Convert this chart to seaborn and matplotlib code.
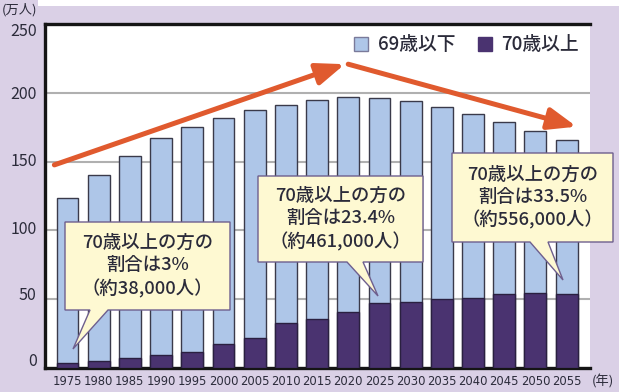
import matplotlib
matplotlib.use("Agg")
import matplotlib.pyplot as plt
import matplotlib.transforms as mtransforms
import seaborn as sns
import pandas as pd
from matplotlib.patches import Patch, Polygon, Rectangle

# --- data (万人) ---
years = ["1975", "1980", "1985", "1990", "1995", "2000", "2005", "2010", "2015",
         "2020", "2025", "2030", "2035", "2040", "2045", "2050", "2055"]
total = [123.4, 139.9, 153.8, 166.9, 175.4, 181.7, 187.7, 191.1, 194.7,
         196.6, 196.2, 193.7, 189.9, 184.6, 178.8, 172.2, 165.4]
over70 = [3.5, 5.1, 7.2, 9.2, 11.6, 17.4, 21.5, 32.4, 35.5,
          40.4, 46.9, 47.8, 49.8, 51.2, 53.6, 54.8, 54.1]
y_ticks = [0, 50, 100, 150, 200, 250]
legend_labels = ["69歳以下", "70歳以上"]
notes = [
    "70歳以上の方の\n割合は3%\n（約38,000人）",
    "70歳以上の方の\n割合は23.4%\n（約461,000人）",
    "70歳以上の方の\n割合は33.5%\n（約556,000人）",
]

df = pd.DataFrame({"year": years, "total": total, "over70": over70})

LIGHT = "#AEC6E8"
DARK = "#4A3370"
BG = "#DAD0E6"
ARROW = "#E05A2E"
TXT = "#2B2B3A"
W, H = 619, 392

sns.set_theme(style="white")
plt.rcParams["font.family"] = ["Noto Sans CJK JP", "DejaVu Sans"]

fig = plt.figure(figsize=(W / 100, H / 100), dpi=100, facecolor=BG)
ax = fig.add_axes([45 / W, 1 - 368 / H, (590 - 45) / W, (368 - 24) / H])
ax.set_facecolor("white")

# white strip across the very top of the page
fig.patches.append(Rectangle((38 / W, 1 - 6 / H), 1, 6 / H, transform=fig.transFigure,
                             facecolor="white", edgecolor="none", zorder=0))

sns.barplot(data=df, x="year", y="total", color=LIGHT, width=0.7, saturation=1,
            edgecolor="#3A3A4A", linewidth=1.0, ax=ax, zorder=2)
sns.barplot(data=df, x="year", y="over70", color=DARK, width=0.7, saturation=1,
            edgecolor="#2A2040", linewidth=1.0, ax=ax, zorder=3)

ax.set_xlim(-0.72, len(years) - 0.25)
ax.set_ylim(0, 250)
ax.set_yticks(y_ticks)
ax.set_xlabel("")
ax.set_ylabel("")
ax.yaxis.grid(True, color="#B0B0B0", linewidth=1.5, zorder=0)
ax.set_axisbelow(True)

for s in ["left", "bottom", "top"]:
    ax.spines[s].set_color("#151515")
    ax.spines[s].set_linewidth(2.4)
ax.spines["right"].set_visible(False)

ax.tick_params(axis="both", length=0)
ax.tick_params(axis="y", pad=6, labelsize=11.5, labelcolor=TXT)
ax.tick_params(axis="x", pad=5, labelcolor=TXT)
for lab in ax.get_xticklabels():
    lab.set_family("DejaVu Sans")
    lab.set_fontstretch("condensed")
    lab.set_fontsize(9.3)

# the printed y labels are nudged off their gridlines (px, + = up)
label_nudge = [9, 6, 3, 2, 0, -6]
for lab, dy in zip(ax.get_yticklabels(), label_nudge):
    lab.set_transform(lab.get_transform() +
                      mtransforms.ScaledTranslation(0, dy / 100, fig.dpi_scale_trans))

fig.text(2 / W, 1 - 10 / H, "(万人)", fontsize=9.5, color=TXT, va="center", ha="left")
fig.text(592 / W, 1 - 381 / H, "(年)", fontsize=9.5, color=TXT, va="center", ha="left")

# legend
handles = [Patch(facecolor=LIGHT, edgecolor="#7A7A9A", linewidth=1),
           Patch(facecolor=DARK, edgecolor=DARK, linewidth=1)]
ax.legend(handles, legend_labels, loc="upper right", bbox_to_anchor=(1.0, 1.0),
          ncol=2, frameon=False, handlelength=0.75, handleheight=0.75,
          handletextpad=0.5, columnspacing=1.2, borderaxespad=0.2,
          labelcolor=TXT, prop={"size": 13.5, "weight": "medium"})

# trend arrows
arrow_kw = dict(arrowstyle="-|>,head_length=0.85,head_width=0.33", color=ARROW,
                lw=3.6, mutation_scale=20, shrinkA=0, shrinkB=0)
ax.annotate("", xy=(8.89, 220.8), xytext=(-0.42, 147.6),
            arrowprops=arrow_kw, annotation_clip=False, zorder=6)
ax.annotate("", xy=(16.32, 175.4), xytext=(9.0, 220.8),
            arrowprops=arrow_kw, annotation_clip=False, zorder=6)


# callout boxes, given in page pixels (top-left origin)
def callout(box, tail, text):
    x0, y0, x1, y1 = box
    bx0, bx1, tx, ty = tail
    pts = [(x0, y0), (x1, y0), (x1, y1), (bx1, y1), (tx, ty), (bx0, y1), (x0, y1)]
    pts = [(x / W, 1 - y / H) for x, y in pts]
    fig.patches.append(Polygon(pts, closed=True, transform=fig.transFigure,
                               facecolor="#FEF9D2", edgecolor="#6E5F8E",
                               linewidth=1.0, zorder=7))
    fig.text((x0 + x1) / 2 / W, 1 - (y0 + y1) / 2 / H, text, ha="center", va="center",
             fontsize=13.2, weight="medium", color=TXT, linespacing=1.3, zorder=8)


callout((65, 222, 230, 310), (90, 108, 73, 349), notes[0])
callout((258, 176, 423, 262), (347, 363, 378, 296), notes[1])
callout((452, 153, 613, 242), (530, 548, 563, 280), notes[2])

fig.savefig("out.png", dpi=100, facecolor=BG)
